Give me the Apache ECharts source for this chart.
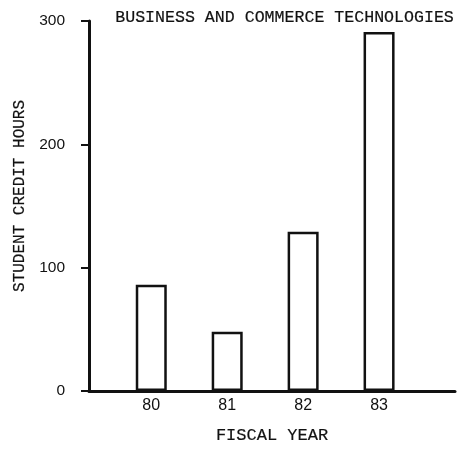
<!DOCTYPE html>
<html>
<head>
<meta charset="utf-8">
<script src="https://cdn.jsdelivr.net/npm/echarts@6/dist/echarts.min.js"></script>
<style>
  html, body { margin: 0; padding: 0; background: #fff; }
  #chart { width: 462px; height: 449px; }
</style>
</head>
<body>
<div id="chart"></div>
<script>
// Fiscal years and student credit hours
const years = [80, 81, 82, 83];
const creditHours = [86, 48, 129, 291];
const yTicks = [0, 100, 200, 300];

const mono = '"Liberation Mono", "DejaVu Sans Mono", monospace';
const sans = '"Liberation Sans", Arial, sans-serif';
const ink = '#111';
// thin stroke so the typewriter lettering reads a touch heavier
const heavy = { textBorderColor: ink, textBorderWidth: 0.2 };

const chart = echarts.init(document.getElementById('chart'), null, { renderer: 'canvas' });

chart.setOption({
  animation: false,
  backgroundColor: '#fff',
  title: {
    text: 'BUSINESS AND COMMERCE TECHNOLOGIES',
    right: 3,
    top: 4,
    textStyle: Object.assign({ fontFamily: mono, fontSize: 16.6, fontWeight: 'normal', color: ink }, heavy)
  },
  grid: { left: 89, right: 7, top: 21, bottom: 56 },
  xAxis: {
    type: 'value',
    min: 79.18,
    max: 84,
    name: 'FISCAL YEAR',
    nameLocation: 'middle',
    nameGap: 36,
    nameTextStyle: Object.assign({ fontFamily: mono, fontSize: 17, color: ink }, heavy),
    axisLine: { show: true, onZero: false, lineStyle: { color: ink, width: 3 } },
    axisTick: { show: false },
    splitLine: { show: false },
    axisLabel: {
      customValues: years,
      fontFamily: sans,
      fontSize: 16,
      color: ink,
      margin: 7
    }
  },
  yAxis: {
    type: 'value',
    min: yTicks[0],
    max: yTicks[yTicks.length - 1],
    interval: 100,
    name: 'STUDENT CREDIT HOURS',
    nameLocation: 'middle',
    nameGap: 59,
    nameTextStyle: Object.assign({ fontFamily: mono, fontSize: 16, color: ink, padding: [0, 0, 0, 20] }, heavy),
    axisLine: { show: true, lineStyle: { color: ink, width: 3 } },
    axisTick: { show: true, length: 8, lineStyle: { color: ink, width: 2 } },
    splitLine: { show: false },
    axisLabel: {
      fontFamily: sans,
      fontSize: 15.5,
      color: ink,
      margin: 24
    }
  },
  series: [{
    type: 'bar',
    data: years.map((y, i) => [y, creditHours[i]]),
    barWidth: 31,
    itemStyle: { color: '#fff', borderColor: ink, borderWidth: 2.5 }
  }]
});
</script>
</body>
</html>
